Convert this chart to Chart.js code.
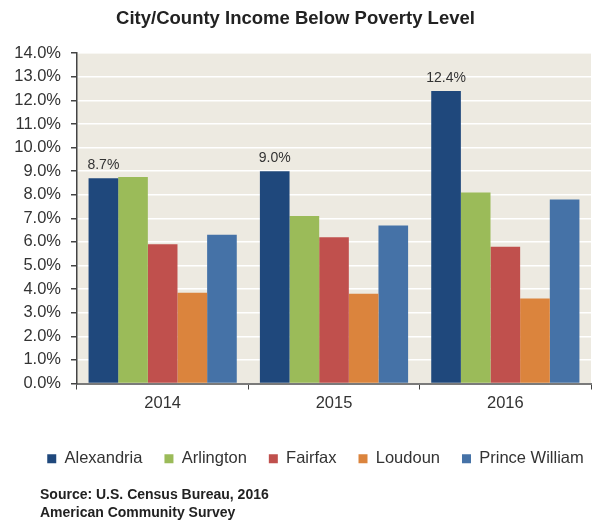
<!DOCTYPE html>
<html lang="en">
<head>
    <meta charset="UTF-8">
    <title>City/County Income Below Poverty Level</title>
    <style>
        body, html {
            margin: 0;
            padding: 0;
            background-color: #ffffff;
        }
        .chart-box {
            position: relative;
            width: 592px;
            height: 520px;
        }
    </style>
</head>
<body>
    <div class="chart-box">
        <canvas id="povertyChart" width="592" height="520"></canvas>
    </div>

    <script src="https://cdn.jsdelivr.net/npm/chart.js"></script>
    <script>
        const years = ['2014', '2015', '2016'];
        const alexandria = [8.7, 9.0, 12.4];
        const arlington = [8.75, 7.1, 8.1];
        const fairfax = [5.9, 6.2, 5.8];
        const loudoun = [3.85, 3.8, 3.6];
        const princeWilliam = [6.3, 6.7, 7.8];
        const labeledSeries = 0; // only Alexandria gets value labels

        const textColor = '#333333';
        const fontName = "'Liberation Sans', Arial, sans-serif";

        // beige plot background
        const plotBackground = {
            id: 'plotBackground',
            beforeDraw(chart) {
                const { ctx, chartArea } = chart;
                ctx.save();
                ctx.fillStyle = '#EDEAE1';
                ctx.fillRect(chartArea.left, chartArea.top, chartArea.right - chartArea.left, chartArea.bottom - chartArea.top);
                ctx.restore();
            }
        };

        // the legend in the original sits a bit right of centre
        const legendNudge = {
            id: 'legendNudge',
            afterLayout(chart) {
                chart.legend.left += 20;
                chart.legend.right += 20;
            }
        };

        // labels above the Alexandria bars + source note
        const extraText = {
            id: 'extraText',
            afterDatasetsDraw(chart) {
                const ctx = chart.ctx;
                const meta = chart.getDatasetMeta(labeledSeries);
                ctx.save();
                ctx.font = '14px ' + fontName;
                ctx.fillStyle = textColor;
                ctx.textAlign = 'center';
                ctx.textBaseline = 'bottom';
                meta.data.forEach((bar, i) => {
                    const v = chart.data.datasets[labeledSeries].data[i];
                    ctx.fillText(v.toFixed(1) + '%', bar.x, bar.y - 6);
                });
                ctx.restore();
            },
            afterDraw(chart) {
                const ctx = chart.ctx;
                ctx.save();
                ctx.font = 'bold 14px ' + fontName;
                ctx.fillStyle = '#222222';
                ctx.textAlign = 'left';
                ctx.textBaseline = 'middle';
                ctx.fillText('Source: U.S. Census Bureau, 2016', 40, 495);
                ctx.fillText('American Community Survey', 40, 513);
                ctx.restore();
            }
        };

        const ctx = document.getElementById('povertyChart').getContext('2d');
        const povertyChart = new Chart(ctx, {
            type: 'bar',
            data: {
                labels: years,
                datasets: [
                    { label: 'Alexandria', data: alexandria, backgroundColor: '#1F487C' },
                    { label: 'Arlington', data: arlington, backgroundColor: '#9BBB59' },
                    { label: 'Fairfax', data: fairfax, backgroundColor: '#C0504D' },
                    { label: 'Loudoun', data: loudoun, backgroundColor: '#DB843D' },
                    { label: 'Prince William', data: princeWilliam, backgroundColor: '#4572A7' }
                ]
            },
            options: {
                responsive: false,
                animation: false,
                layout: {
                    padding: { left: 0, right: 1, top: 0, bottom: 43 }
                },
                datasets: {
                    bar: {
                        categoryPercentage: 0.865,
                        barPercentage: 1.0,
                        borderWidth: 0
                    }
                },
                scales: {
                    x: {
                        grid: {
                            display: true,
                            drawOnChartArea: false,
                            offset: true,
                            tickLength: 6,
                            tickColor: '#444444'
                        },
                        border: { color: '#7a7a7a', width: 2 },
                        ticks: {
                            color: textColor,
                            font: { family: fontName, size: 16.5 },
                            padding: 4
                        },
                        afterFit(scale) {
                            scale.height = 45;
                        }
                    },
                    y: {
                        min: 0,
                        max: 14,
                        ticks: {
                            stepSize: 1,
                            color: textColor,
                            font: { family: fontName, size: 16.5 },
                            padding: 10,
                            callback: v => v.toFixed(1) + '%'
                        },
                        grid: {
                            color: '#ffffff',
                            lineWidth: 1.5,
                            tickColor: '#444444',
                            tickLength: 6
                        },
                        border: { color: '#444444', width: 1.5 },
                        afterFit(scale) {
                            scale.width = 77;
                        }
                    }
                },
                plugins: {
                    title: {
                        display: true,
                        text: 'City/County Income Below Poverty Level',
                        color: '#222222',
                        font: { family: fontName, size: 18.5, weight: 'bold' },
                        padding: { top: 8, bottom: 23 }
                    },
                    legend: {
                        display: true,
                        position: 'bottom',
                        labels: {
                            boxWidth: 9,
                            boxHeight: 9,
                            padding: 22,
                            color: textColor,
                            font: { family: fontName, size: 16.5 }
                        }
                    },
                    tooltip: { enabled: false }
                }
            },
            plugins: [plotBackground, legendNudge, extraText]
        });
    </script>
</body>
</html>
